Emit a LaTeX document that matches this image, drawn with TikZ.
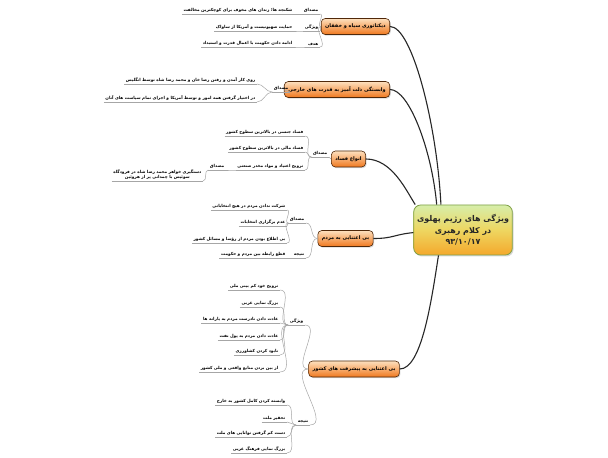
\documentclass[tikz,border=0pt]{standalone}
\usepackage{fontspec}
\newfontfamily\arabicfont[Script=Arabic]{DejaVu Sans}
\TeXXeTstate=1
\newcommand{\fatext}[1]{\beginR #1\endR}
\usetikzlibrary{shadows}
\definecolor{RootTop}{RGB}{214,238,170}
\definecolor{RootMid}{RGB}{238,214,96}
\definecolor{RootBot}{RGB}{244,168,44}
\definecolor{RootLine}{RGB}{128,160,70}
\definecolor{TopicTop}{RGB}{253,224,190}
\definecolor{TopicBot}{RGB}{240,120,30}
\definecolor{TopicLine}{RGB}{80,40,10}

\begin{document}
\begin{tikzpicture}[x=1bp,y=-1bp,
  every node/.style={font=\arabicfont\bfseries\fontsize{4.2}{5.4}\selectfont},
  root/.style={rectangle,rounded corners=7bp,draw=RootLine,line width=0.8pt,
    top color=RootTop,bottom color=RootBot,middle color=RootMid,
    minimum width=80bp,minimum height=50bp,align=center,text=black!85,
    font=\arabicfont\bfseries\fontsize{8}{11.5}\selectfont,
    drop shadow={opacity=0.3,shadow xshift=1.2bp,shadow yshift=-1.5bp}},
  topic/.style={rectangle,rounded corners=4bp,draw=TopicLine,line width=0.6pt,
    top color=TopicTop,bottom color=TopicBot,minimum height=16bp,inner xsep=4bp,
    font=\arabicfont\bfseries\fontsize{5}{6}\selectfont,
    drop shadow={opacity=0.3,shadow xshift=1bp,shadow yshift=-1.2bp}},
  lab/.style={inner xsep=1.5bp,inner ysep=1.2bp,anchor=south east},
  leaf/.style={inner xsep=1.5bp,inner ysep=1.2bp,anchor=south east,align=center},
  link/.style={line width=1.1pt,black!85},
  sub/.style={draw=black!35,line width=0.5pt}]
\fill[white] (0,0) rectangle (608,458);
\useasboundingbox (0,0) rectangle (608,458);

\node[root] (root) at (463,230) {\fatext{ویژگی های رژیم پهلوی}\\ \fatext{در کلام رهبری}\\ ۹۳/۱۰/۱۷};

% main topics
\node[topic,minimum width=55bp] (dict) at (355.5,26.5) {\fatext{دیکتاتوری سیاه و خفقان}};
\node[topic,minimum width=88bp] (vab) at (337,89.5) {\fatext{وابستگی ذلت آمیز به قدرت های خارجی}};
\node[topic,minimum width=31bp] (fesad) at (348.5,159) {\fatext{انواع فساد}};
\node[topic,minimum width=55bp] (mardom) at (345.5,238.5) {\fatext{بی اعتنایی به مردم}};
\node[topic,minimum width=78bp] (pish) at (354,369) {\fatext{بی اعتنایی به پیشرفت های کشور}};

\draw[link] (dict.east) .. controls +(22,0) and +(-4,-80) .. (root.131);
\draw[link] (vab.east) .. controls +(19,0) and +(-5,-55) .. (root.136);
\draw[link] (fesad.east) .. controls +(26,0) and +(-9,-14) .. (root.152);
\draw[link] (mardom.east) .. controls +(20,0) and +(-20,2) .. (root.183);
\draw[link] (pish.east) .. controls +(22,0) and +(-7,45) .. (root.226);

% labels
\node[lab] (dictM) at (320,14) {\fatext{مصداق}};
\node[lab] (dictV) at (320,31) {\fatext{ویژگی}};
\node[lab] (dictH) at (320,47) {\fatext{هدف}};
\node[lab] (vabM) at (290,92) {\fatext{مصداق}};
\node[lab] (fesadM) at (329,157) {\fatext{مصداق}};
\node[lab] (fesadM2) at (226,170) {\fatext{مصداق}};
\node[lab] (mardomM) at (306,223) {\fatext{مصداق}};
\node[lab] (mardomN) at (306,258) {\fatext{نتیجه}};
\node[lab] (pishV) at (305,325) {\fatext{ویژگی}};
\node[lab] (pishN) at (310,425) {\fatext{نتیجه}};

% leaves
\node[leaf] (dict1) at (294,14) {\fatext{شکنجه ها؛ زندان های مخوف برای کوچکترین مخالفت}};
\node[leaf] (dict2) at (294,31) {\fatext{حمایت صهیونیست و آمریکا از ساواک}};
\node[leaf] (dict3) at (294,47) {\fatext{ادامه دادن حکومت با اعمال قدرت و استبداد}};
\node[leaf] (vab1) at (257,84) {\fatext{روی کار آمدن و رفتن رضا خان و محمد رضا شاه توسط انگلیس}};
\node[leaf] (vab2) at (257,102) {\fatext{در اختیار گرفتن همه امور و توسط آمریکا و اجرای تمام سیاست های آنان}};
\node[leaf] (fesad1) at (305,136) {\fatext{فساد جنسی در بالاترین سطوح کشور}};
\node[leaf] (fesad2) at (305,152) {\fatext{فساد مالی در بالاترین سطوح کشور}};
\node[leaf] (fesad3) at (305,170) {\fatext{ترویج اعتیاد و مواد مخدر صنعتی}};
\node[leaf] (fesad4) at (203,181) {\fatext{دستگیری خواهر محمد رضا شاه در فرودگاه}\\ \fatext{سوئیس با چمدانی پر از هروئین}};
\node[leaf] (mardom1) at (287,210) {\fatext{شرکت ندادن مردم در هیچ انتخاباتی}};
\node[leaf] (mardom2) at (287,226) {\fatext{عدم برگزاری انتخابات}};
\node[leaf] (mardom3) at (287,243) {\fatext{بی اطلاع بودن مردم از رؤسا و مسائل کشور}};
\node[leaf] (mardom4) at (287,258) {\fatext{قطع رابطه بین مردم و حکومت}};
\node[leaf] (pish1) at (280,290) {\fatext{ترویج خود کم بینی ملی}};
\node[leaf] (pish2) at (280,307) {\fatext{بزرگ نمایی غربی}};
\node[leaf] (pish3) at (280,323) {\fatext{عادت دادن نادرست مردم به یارانه ها}};
\node[leaf] (pish4) at (280,340) {\fatext{عادت دادن مردم به پول نفت}};
\node[leaf] (pish5) at (280,355) {\fatext{نابود کردن کشاورزی}};
\node[leaf] (pish6) at (280,372) {\fatext{از بین بردن منابع واقعی و ملی کشور}};
\node[leaf] (pish7) at (287,405) {\fatext{وابسته کردن کامل کشور به خارج}};
\node[leaf] (pish8) at (287,422) {\fatext{تحقیر ملت}};
\node[leaf] (pish9) at (287,437) {\fatext{دست کم گرفتن توانایی های ملت}};
\node[leaf] (pish10) at (287,453) {\fatext{بزرگ نمایی فرهنگ غربی}};

% underlines
\foreach \n in {dictM,dictV,dictH,vabM,fesadM,fesadM2,mardomM,mardomN,pishV,pishN,
  dict1,dict2,dict3,vab1,vab2,fesad1,fesad2,fesad3,fesad4,
  mardom1,mardom2,mardom3,mardom4,pish1,pish2,pish3,pish4,pish5,pish6,pish7,pish8,pish9,pish10}
  \draw[sub] (\n.south west) -- (\n.south east);

% topic to label
\foreach \a/\b in {dict/dictM,dict/dictV,dict/dictH,vab/vabM,fesad/fesadM,
  mardom/mardomM,mardom/mardomN,pish/pishV,pish/pishN}
  \draw[sub] (\a.west) to[out=180,in=0] (\b.south east);

% label to leaf
\foreach \a/\b in {dictM/dict1,dictV/dict2,dictH/dict3,vabM/vab1,vabM/vab2,
  fesadM/fesad1,fesadM/fesad2,fesadM/fesad3,fesad3/fesadM2,fesadM2/fesad4,
  mardomM/mardom1,mardomM/mardom2,mardomM/mardom3,mardomN/mardom4,
  pishV/pish1,pishV/pish2,pishV/pish3,pishV/pish4,pishV/pish5,pishV/pish6,
  pishN/pish7,pishN/pish8,pishN/pish9,pishN/pish10}
  \draw[sub] (\a.south west) to[out=180,in=0] (\b.south east);
\end{tikzpicture}
\end{document}
